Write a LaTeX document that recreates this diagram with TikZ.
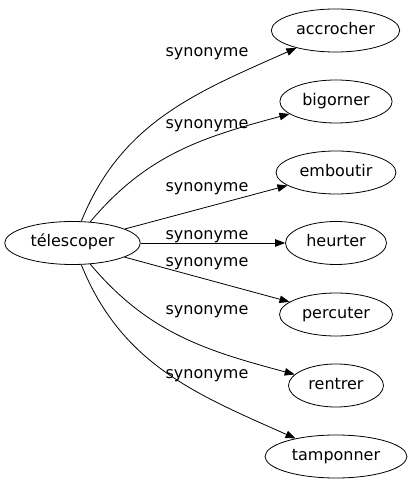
\documentclass[tikz,border=0pt]{standalone}
\usepackage{fontspec}
\setmainfont{DejaVu Sans}
\usetikzlibrary{shapes.geometric,arrows.meta}

\begin{document}
\begin{tikzpicture}[x=1pt,y=1pt,
  word/.style={draw,ellipse,line width=0.8pt,inner xsep=6pt,inner ysep=2pt,
    minimum height=43pt,text height=11pt,text depth=3pt,
    font=\fontsize{16}{19}\selectfont},
  syn/.style={-{Triangle[length=10pt,width=7.5pt]},line width=0.8pt},
  lbl/.style={inner sep=0pt,anchor=base,font=\fontsize{16}{19}\selectfont}]
  \useasboundingbox (0,0) rectangle (411,491);

  \node[word] (tel) at (72.5,248) {télescoper};

  \node[word] (acc) at (335.5,460.5) {accrocher};
  \node[word] (big) at (336,389.5) {bigorner};
  \node[word] (emb) at (336,318.5) {emboutir};
  \node[word] (heu) at (336,248) {heurter};
  \node[word] (per) at (336,176.5) {percuter};
  \node[word] (ren) at (336,105.5) {rentrer};
  \node[word] (tam) at (336,34.5) {tamponner};

  \draw[syn] (tel) to[out=68,in=204] (acc);
  \draw[syn] (tel) to[out=50,in=195] (big);
  \draw[syn] (tel) -- (emb);
  \draw[syn] (tel) -- (heu);
  \draw[syn] (tel) -- (per);
  \draw[syn] (tel) to[out=-50,in=165] (ren);
  \draw[syn] (tel) to[out=-68,in=156] (tam);

  \node[lbl] (lacc) at (207,434.3) {synonyme};
  \node[lbl] (lbig) at (207,362.7) {synonyme};
  \node[lbl] (lemb) at (207,299.3) {synonyme};
  \node[lbl] (lheu) at (207,251.7) {synonyme};
  \node[lbl] (lper) at (207,224.5) {synonyme};
  \node[lbl] (lren) at (207,176) {synonyme};
  \node[lbl] (ltam) at (207,112.7) {synonyme};
\end{tikzpicture}
\end{document}
